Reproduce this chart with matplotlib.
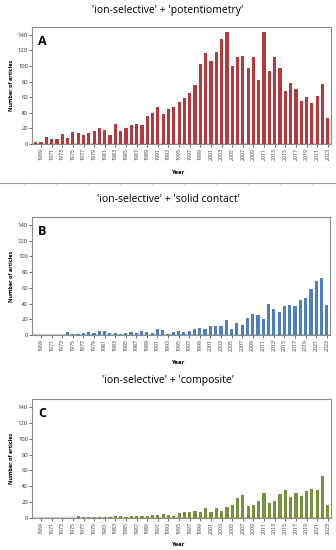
import matplotlib.pyplot as plt
import numpy as np

years = list(range(1968, 2024))

potentiometry = [2, 3, 9, 7, 7, 13, 8, 15, 14, 11, 14, 17, 20, 18, 12, 26, 17, 21, 24, 26,
                 25, 36, 40, 48, 39, 45, 48, 54, 59, 65, 76, 103, 117, 106, 118, 134, 143, 100, 112, 113,
                 98, 112, 82, 144, 94, 112, 98, 68, 78, 71, 55, 60, 52, 62, 77, 33]

solid_contact = [0, 0, 0, 0, 0, 0, 4, 1, 1, 2, 4, 3, 5, 5, 3, 2, 1, 2, 4, 3,
                 5, 4, 3, 8, 6, 1, 4, 5, 4, 5, 8, 9, 7, 12, 11, 11, 19, 7, 15, 13,
                 22, 27, 25, 20, 39, 33, 29, 37, 38, 37, 45, 47, 58, 69, 73, 38]

composite = [0, 0, 0, 0, 0, 0, 0, 0, 2, 1, 1, 1, 1, 1, 1, 2, 2, 1, 2, 2,
             3, 2, 4, 4, 5, 4, 3, 6, 7, 7, 9, 7, 13, 7, 12, 9, 14, 16, 25, 29,
             15, 16, 22, 31, 19, 22, 30, 35, 27, 31, 28, 34, 37, 35, 53, 17]

titles = ["'ion-selective' + 'potentiometry'",
          "'ion-selective' + 'solid contact'",
          "'ion-selective' + 'composite'"]
letters = ["A", "B", "C"]
colors = ["#B5393A", "#4F7FBF", "#76933C"]

W, H = 336, 550
fig = plt.figure(figsize=(W / 100, H / 100), dpi=100)
plt.rcParams['font.family'] = ['Open Sans', 'DejaVu Sans']

# pixel boxes: left, top, right, bottom ; title y ; Year y
boxes = [(32, 27, 331, 144, 10, 172),
         (32, 217, 330, 335, 200, 363),
         (32, 399, 331, 518, 381, 545)]

x = np.arange(len(years))
for data, title, letter, col, (l, t, r, b, ty, yy) in zip(
        [potentiometry, solid_contact, composite], titles, letters, colors, boxes):
    ax = fig.add_axes([l / W, 1 - b / H, (r - l) / W, (b - t) / H])
    ax.axhspan(0, 1.8, color="#d0d0d0", zorder=0)
    ax.bar(x, data, width=0.6, color=col, zorder=2)
    ax.set_xlim(-0.7, len(years) - 0.4)
    ax.set_ylim(0, 150)
    ax.set_yticks(range(0, 141, 20))
    ax.set_xticks(x[1::2])
    ax.set_xticklabels([str(y) for y in years[1::2]], rotation=90, fontsize=3.8)
    ax.tick_params(axis='y', labelsize=4.2, length=2, width=0.5, pad=1, colors="#333333")
    ax.tick_params(axis='x', length=2, width=0.5, pad=1, colors="#333333")
    for s in ax.spines.values():
        s.set_color("#8c8c8c")
        s.set_linewidth(0.8)
    ax.set_ylabel("Number of articles", fontsize=4, fontweight='bold', labelpad=3)
    ax.text(0.02, 0.93, letter, transform=ax.transAxes, fontsize=9, fontweight='bold',
            va='top', ha='left')
    fig.text(0.5, 1 - ty / H, title, ha='center', va='center', fontsize=7.5)
    fig.text(0.53, 1 - yy / H, "Year", ha='center', va='center', fontsize=4.3, fontweight='bold')

# separator line under first panel
sep = fig.add_axes([0, 1 - 186 / H, 1, 4 / H])
sep.axis('off')
sep.set_xlim(0, W)
sep.set_ylim(0, 4)
sep.plot([0, W], [3, 3], color="#9a9a9a", lw=0.8)
for xs in [24, 56, 88, 120, 152, 184, 216, 248, 280, 312]:
    sep.plot([xs, xs], [3, 1], color="#c0c0c0", lw=0.5)

fig.savefig("out.png", dpi=100)
